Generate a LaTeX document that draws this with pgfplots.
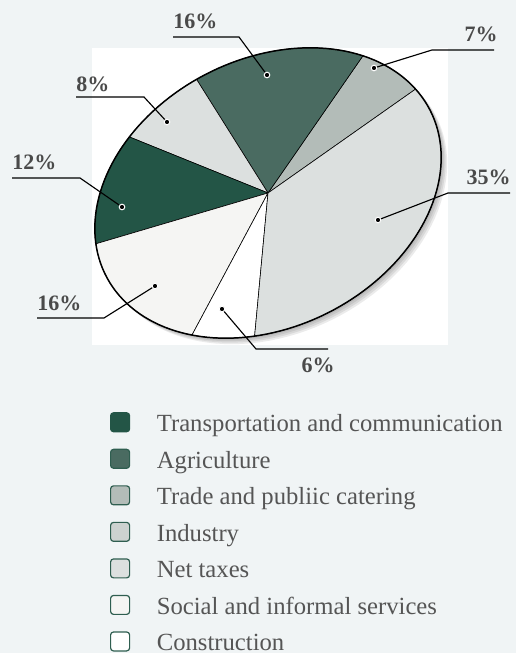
\documentclass[border=0pt]{standalone}
\usepackage{fontspec}
\setmainfont{Liberation Serif}
\usepackage{pgfplots}
\pgfplotsset{compat=1.18}
\definecolor{bg}{HTML}{F0F4F5}
\definecolor{ctrans}{HTML}{235546}
\definecolor{cagri}{HTML}{4A6B61}
\definecolor{ctrade}{HTML}{B3BCB8}
\definecolor{cind}{HTML}{DCE0DF}
\definecolor{cindleg}{HTML}{CDD2D0}
\definecolor{cnet}{HTML}{DCE0DF}
\definecolor{csoc}{HTML}{F5F5F3}
\definecolor{ccon}{HTML}{FFFFFF}
\definecolor{bord}{HTML}{2F5E50}
\definecolor{labcol}{HTML}{4A4A4A}
\definecolor{legtext}{HTML}{555555}

% pie geometry (pixel units)
\def\cx{268}\def\cy{460}\def\ea{182}\def\eb{134}\def\th{27}\def\tz{11}

\newcommand{\pieslice}[3]{% cumulative start pct, pct, colour
  \pgfmathsetmacro{\tA}{\tz+3.6*#1}%
  \pgfmathsetmacro{\tB}{\tz+3.6*(#1+#2)}%
  \edef\doslice{\noexpand\addplot[forget plot, mark=none, fill=#3, draw=black, line width=0.45pt, domain=\tA:\tB, samples=60]
    ({\cx+\ea*cos(x)*cos(\th)-\eb*sin(x)*sin(\th)}, {\cy+\ea*cos(x)*sin(\th)+\eb*sin(x)*cos(\th)}) -- (axis cs:\cx,\cy) -- cycle;}%
  \doslice}

\newcommand{\shadowell}[2]{% dx, dy
  \edef\doshadow{\noexpand\addplot[forget plot, mark=none, draw=none, fill=black, fill opacity=0.08, domain=0:360, samples=120]
    ({#1+\cx+\ea*cos(x)*cos(\th)-\eb*sin(x)*sin(\th)}, {#2+\cy+\ea*cos(x)*sin(\th)+\eb*sin(x)*cos(\th)}) -- cycle;}%
  \doshadow}

\begin{document}
\begin{tikzpicture}
\begin{axis}[
  x=0.75pt, y=0.75pt,
  xmin=0, xmax=516, ymin=0, ymax=653,
  hide axis, clip=false,
  anchor=origin, at={(0,0)},
  legend cell align=left,
  legend image code/.code={\draw[#1, rounded corners=2.2pt] (0pt,-7.1pt) rectangle (14.25pt,7.1pt);},
  legend style={at={(axis cs:110,242)}, anchor=north west, draw=none, fill=none,
    inner sep=0pt, outer sep=0pt, row sep=10.5pt, column sep=20pt,
    nodes={inner sep=0pt, text=legtext},
    font=\fontsize{18.5}{22}\selectfont},
]
\fill[bg] (axis cs:0,0) rectangle (axis cs:516,653);
\fill[white] (axis cs:92,308) rectangle (axis cs:448,605);

% shadow
\shadowell{1.5}{-1.5}
\shadowell{3}{-3}
\shadowell{4.5}{-4.5}
\shadowell{6}{-6}

% slices: Trade 7, Agriculture 16, Net taxes 8, Transport 12, Social 16, Construction 6, Industry 35
\pieslice{0}{7}{ctrade}
\pieslice{7}{16}{cagri}
\pieslice{23}{8}{cnet}
\pieslice{31}{12}{ctrans}
\pieslice{43}{16}{csoc}
\pieslice{59}{6}{ccon}
\pieslice{65}{35}{cind}

% outline
\addplot[forget plot, mark=none, draw=black, line width=1.1pt, domain=0:360, samples=160]
  ({\cx+\ea*cos(x)*cos(\th)-\eb*sin(x)*sin(\th)}, {\cy+\ea*cos(x)*sin(\th)+\eb*sin(x)*cos(\th)}) -- cycle;

% leader lines
\addplot[forget plot, mark=none, black, line width=0.85pt] coordinates {(267,578) (239,616) (173,616)};
\addplot[forget plot, mark=none, black, line width=0.85pt] coordinates {(374,585) (432,603) (494,603)};
\addplot[forget plot, mark=none, black, line width=0.85pt] coordinates {(167,531) (144,556) (76,556)};
\addplot[forget plot, mark=none, black, line width=0.85pt] coordinates {(122,446) (80,475) (12,475)};
\addplot[forget plot, mark=none, black, line width=0.85pt] coordinates {(155,367) (104,335) (37,335)};
\addplot[forget plot, mark=none, black, line width=0.85pt] coordinates {(222,344) (256,304) (328,304)};
\addplot[forget plot, mark=none, black, line width=0.85pt] coordinates {(378,433) (448,460) (510,460)};

% dots
\addplot[forget plot, only marks, mark=*, mark size=2.1pt, mark options={fill=black, draw=white, line width=0.75pt}]
  coordinates {(267,578) (374,585) (167,531) (122,446) (155,367) (222,344) (378,433)};

% labels
\begin{scope}[every node/.style={font=\bfseries\fontsize{16.5}{18}\selectfont, text=labcol, inner sep=0pt}]
\node[anchor=base west] at (axis cs:173,624) {16\%};
\node[anchor=base east] at (axis cs:498,611) {7\%};
\node[anchor=base west] at (axis cs:76,561) {8\%};
\node[anchor=base west] at (axis cs:12,483) {12\%};
\node[anchor=base west] at (axis cs:37,342) {16\%};
\node[anchor=base] at (axis cs:318,280) {6\%};
\node[anchor=base east] at (axis cs:511,468) {35\%};
\end{scope}

% legend
\addlegendimage{fill=ctrans, draw=ctrans, line width=0.9pt}
\addlegendentry{\strut Transportation and communication}
\addlegendimage{fill=cagri, draw=bord, line width=0.9pt}
\addlegendentry{\strut Agriculture}
\addlegendimage{fill=ctrade, draw=bord, line width=0.9pt}
\addlegendentry{\strut Trade and publiic catering}
\addlegendimage{fill=cindleg, draw=bord, line width=0.9pt}
\addlegendentry{\strut Industry}
\addlegendimage{fill=cnet, draw=bord, line width=0.9pt}
\addlegendentry{\strut Net taxes}
\addlegendimage{fill=csoc, draw=bord, line width=0.9pt}
\addlegendentry{\strut Social and informal services}
\addlegendimage{fill=ccon, draw=bord, line width=0.9pt}
\addlegendentry{\strut Construction}
\end{axis}
\end{tikzpicture}
\end{document}
